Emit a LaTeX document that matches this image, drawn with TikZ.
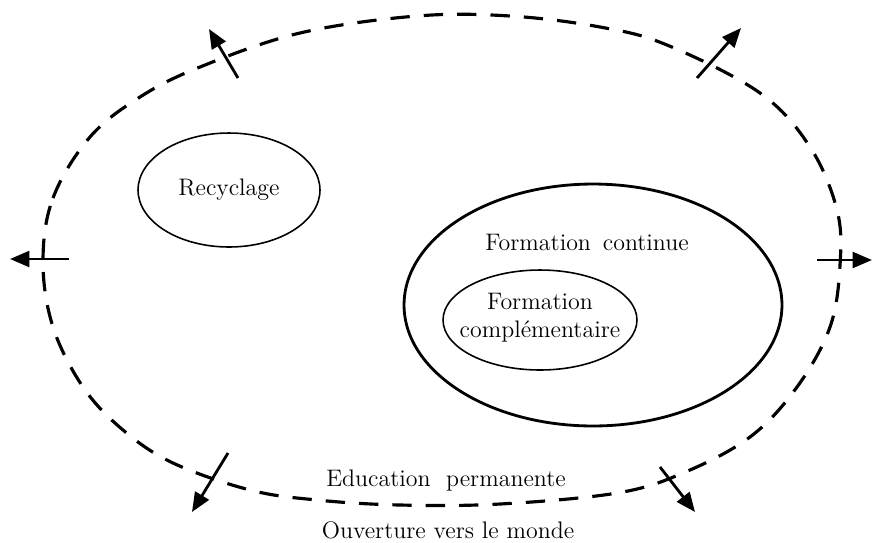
\documentclass[tikz,border=0pt]{standalone}
\usepackage{tikz}
\usetikzlibrary{shapes.geometric}
\usetikzlibrary{positioning}
\usetikzlibrary{arrows.meta}
\tikzset{x=0.02cm, y=-0.02cm, % One unit is one pixel of the sketch, y downwards
      every node/.style={ % Text size of all labels
      font=\fontsize{13.6}{16}\selectfont},
      bubble/.style={ % Closed ellipses
      draw, ellipse, inner sep=0pt,
      line width=0.9pt},
      outward/.style={ % Arrows leaving the dashed boundary
      draw, line width=1.6pt,
      -{Triangle[length=11pt,width=9pt]}},
      boundary/.style={ % Dashed outer line
      line width=1.8pt,
      dash pattern=on 11pt off 8pt}}

\begin{document}
\begin{tikzpicture}
      \useasboundingbox (0,0) rectangle (874,542);
      % Education permanente, the dashed boundary
      \draw[boundary] plot[smooth cycle, tension=0.6] coordinates {
            (43,262) (53,198) (90,137) (140,97) (200,67) (300,33) (417,16)
            (510,16) (600,27) (667,45) (760,93) (810,147) (837,210) (840,265)
            (830,327) (797,387) (750,437) (683,473) (617,493) (500,504)
            (400,505) (317,500) (250,490) (173,463) (123,430) (83,387) (53,327)};
      \node[bubble, minimum width=3.64cm, minimum height=2.28cm] (recyc) at (229,190) {Recyclage};
      \node[bubble, line width=1.6pt, minimum width=7.56cm, minimum height=4.84cm] (contin) at (593,305) {};
      \node[anchor=base] (continlabel) at (587,250) {Formation\hspace{0.5em}continue};
      \node[bubble, minimum width=3.88cm, minimum height=2cm] (compl) at (540,320) {};
      \node[align=center] (compllabel) at (540,318) {Formation\\compl\'ementaire};
      \node[anchor=base] (educ) at (446,486) {Education\ \ permanente};
      \node[anchor=base] (ouvert) at (448,538) {Ouverture vers le monde};
      % Arrows pointing outwards
      \coordinate (tlfoot) at (238,78);  \coordinate (tltip) at (209,29);
      \coordinate (trfoot) at (697,78);  \coordinate (trtip) at (741,28);
      \coordinate (lfoot) at (69,259);   \coordinate (ltip) at (10,259);
      \coordinate (rfoot) at (817,260);  \coordinate (rtip) at (872,260);
      \coordinate (blfoot) at (228,453); \coordinate (bltip) at (192,512);
      \coordinate (brfoot) at (660,467); \coordinate (brtip) at (695,512);
      \foreach \side in {tl,tr,l,r,bl,br}
            \draw[outward] (\side foot) -- (\side tip);
\end{tikzpicture}
\end{document}
